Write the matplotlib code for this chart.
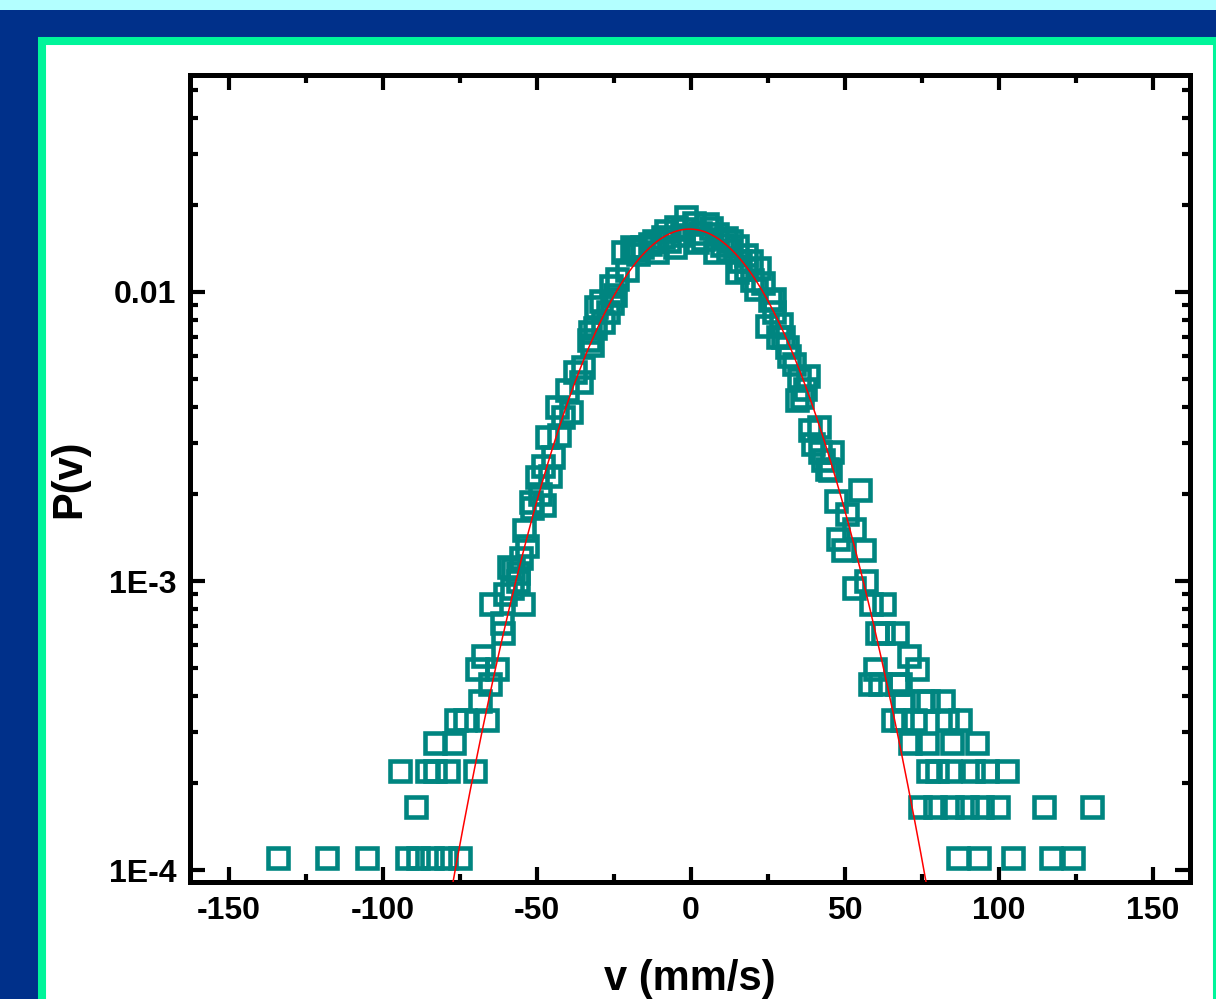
import numpy as np
import matplotlib
matplotlib.use("Agg")
import matplotlib.pyplot as plt
from matplotlib.patches import Rectangle
from matplotlib.ticker import FixedLocator, NullFormatter

plt.rcParams['font.family'] = ['Liberation Sans', 'DejaVu Sans']
plt.rcParams['font.weight'] = 'bold'
plt.rcParams['axes.unicode_minus'] = False

# velocity histogram P(v), v in mm/s
v = [-134.1, -118.2, -105.2, -92.2, -88.6, -84.1, -79.5, -75.0,
     -89.3,
     -94.2, -85.7, -83.1, -78.9, -70.1,
     -83.1, -76.9,
     -76.3, -73.4, -66.2,
     -68.5, -65.3, -69.5, -63.0, -67.5,
     -61.0, -61.4, -64.9, -54.5, -60.4, -56.2, -57.8,
     -59.1, -56.2, -58.0, -55.0, -54.0, -53.2, -51.9, -51.6, -49.0, -47.7,
     -50.0, -48.0, -45.8, -44.8, -46.8, -42.9, -43.5, -39.0, -41.6, -40.3,
     -35.7, -37.7, -35.1, -33.0, -32.1, -31.0, -32.8, -28.6, -27.0, -30.8,
     -29.0, -25.6, -24.7, -24.0, -20.8, -22.1, -19.2, -17.0, -15.9, -13.3,
     -11.0, -9.1, -7.0, -5.2, -4.9, -3.0, -1.6, 1.0, 1.9, 3.0,
     5.2, 7.8, 8.4, 10.0, 11.4, 12.0, 14.9, 14.9, 17.9, 18.0,
     20.0, 22.1, 23.4, 21.1, 26.9, 25.6, 24.7, 27.0, 29.2, 28.2,
     30.0, 31.2, 32.0, 33.4, 35.0, 38.0, 36.0, 34.4, 37.0, 38.6,
     41.6, 39.6, 41.9, 45.8, 42.9, 45.1, 44.2, 54.9, 47.1, 50.6,
     47.7, 52.9, 49.4, 56.2, 52.9, 56.8, 58.4, 62.7,
     60.4, 62.3, 66.9, 70.8, 59.7, 73.4,
     58.1, 61.4, 66.9, 67.9,
     68.8, 75.0, 77.0, 81.8,
     65.6, 68.5, 72.7, 83.1, 87.3,
     71.1, 76.6, 84.7, 92.9,
     77.0, 79.9, 84.1, 91.6, 96.1, 102.6,
     74.4, 79.2, 84.7, 89.6, 94.5, 99.7, 114.6, 130.2,
     86.7, 93.5, 104.5, 116.9, 124.0,
     -18.0, -12.0, -8.0, -2.5, 4.0, 6.5, 13.0, 16.0, -26.0, 19.5]

P = [1.1e-4, 1.1e-4, 1.1e-4, 1.1e-4, 1.1e-4, 1.1e-4, 1.1e-4, 1.1e-4,
     1.65e-4,
     2.2e-4, 2.2e-4, 2.2e-4, 2.2e-4, 2.2e-4,
     2.75e-4, 2.75e-4,
     3.3e-4, 3.3e-4, 3.3e-4,
     3.85e-4, 4.4e-4, 4.95e-4, 4.95e-4, 5.5e-4,
     6.6e-4, 7.15e-4, 8.3e-4, 8.3e-4, 9.0e-4, 1.0e-3, 1.1e-3,
     1.12e-3, 1.07e-3, 9.5e-4, 1.2e-3, 1.5e-3, 1.32e-3, 1.87e-3, 1.79e-3, 2.0e-3, 1.83e-3,
     2.29e-3, 2.5e-3, 2.31e-3, 2.69e-3, 3.15e-3, 3.20e-3, 4.00e-3, 3.84e-3, 3.69e-3, 4.58e-3,
     4.88e-3, 5.28e-3, 5.50e-3, 6.8e-3, 6.56e-3, 7.5e-3, 7.27e-3, 7.87e-3, 8.5e-3, 8.87e-3,
     9.3e-3, 9.16e-3, 9.77e-3, 0.0111, 0.0119, 0.0137, 0.0143, 0.0135, 0.0143, 0.0146,
     0.0137, 0.0155, 0.0150, 0.0143, 0.0168, 0.0158, 0.0182, 0.0173, 0.0149, 0.0160,
     0.0172, 0.0137, 0.0159, 0.0145, 0.0154, 0.0140, 0.0144, 0.0117, 0.0134, 0.0120,
     0.0110, 0.0121, 0.01075, 0.01024, 9.46e-3, 9.38e-3, 7.62e-3, 8.5e-3, 7.75e-3, 6.98e-3,
     7.0e-3, 6.45e-3, 6.0e-3, 5.63e-3, 5.0e-3, 5.12e-3, 4.33e-3, 4.23e-3, 4.6e-3, 3.33e-3,
     3.41e-3, 2.98e-3, 2.79e-3, 2.79e-3, 2.62e-3, 2.42e-3, 2.44e-3, 2.07e-3, 1.89e-3, 1.71e-3,
     1.40e-3, 1.51e-3, 1.28e-3, 1.28e-3, 9.46e-4, 1.0e-3, 8.32e-4, 8.32e-4,
     6.6e-4, 6.6e-4, 6.6e-4, 5.5e-4, 4.95e-4, 4.95e-4,
     4.4e-4, 4.4e-4, 4.4e-4, 4.4e-4,
     3.85e-4, 3.85e-4, 3.85e-4, 3.85e-4,
     3.3e-4, 3.3e-4, 3.3e-4, 3.3e-4, 3.3e-4,
     2.75e-4, 2.75e-4, 2.75e-4, 2.75e-4,
     2.2e-4, 2.2e-4, 2.2e-4, 2.2e-4, 2.2e-4, 2.2e-4,
     1.65e-4, 1.65e-4, 1.65e-4, 1.65e-4, 1.65e-4, 1.65e-4, 1.65e-4, 1.65e-4,
     1.1e-4, 1.1e-4, 1.1e-4, 1.1e-4, 1.1e-4,
     0.0140, 0.0150, 0.0162, 0.0165, 0.0152, 0.0166, 0.0150, 0.0128, 0.0105, 0.0128]

# gaussian fit parameters
A_fit = 0.0165
xc_fit = -0.4
w_fit = 23.8

xticks = [-150, -100, -50, 0, 50, 100, 150]
yticks = [1e-4, 1e-3, 1e-2]
ylabels = ['1E-4', '1E-3', '0.01']

fig = plt.figure(figsize=(12.16, 9.99), dpi=100)
fig.patch.set_facecolor('#00308a')

# light strip on top and the white panel with green border
fig.patches.append(Rectangle((0, 1 - 10 / 999), 1, 10 / 999, transform=fig.transFigure,
                             facecolor='#b3ffff', edgecolor='none', zorder=-10))
fig.patches.append(Rectangle((42 / 1216, -0.05), (1217 - 42) / 1216, 1 - 41 / 999 + 0.05,
                             transform=fig.transFigure, facecolor='white',
                             edgecolor='#00f59a', linewidth=5.8, zorder=-10))

ax = fig.add_axes([190 / 1216, 1 - 882 / 999, 1000 / 1216, 807 / 999])
ax.set_zorder(1)
ax.patch.set_alpha(0)
ax.set_yscale('log')

ax.plot(v, P, linestyle='none', marker='s', markersize=14, markerfacecolor='none',
        markeredgecolor='#008580', markeredgewidth=3.3, clip_on=False, zorder=3)

vf = np.linspace(-170, 170, 800)
ax.plot(vf, A_fit * np.exp(-(vf - xc_fit) ** 2 / (2 * w_fit ** 2)), color='red', lw=1.1, zorder=4)

ax.set_xlim(-162.5, 162)
ax.set_ylim(9.1e-5, 0.0563)

ax.set_xticks(xticks)
ax.xaxis.set_minor_locator(FixedLocator([-125, -75, -25, 25, 75, 125]))
ax.yaxis.set_major_locator(FixedLocator(yticks))
ax.set_yticklabels(ylabels)
minors = [m * d for d in [1e-5, 1e-4, 1e-3, 1e-2] for m in range(2, 10)]
ax.yaxis.set_minor_locator(FixedLocator(minors))
ax.yaxis.set_minor_formatter(NullFormatter())

ax.tick_params(which='both', direction='in', top=True, right=True, width=3,
               labelsize=23, pad=10)
ax.tick_params(which='major', length=11)
ax.tick_params(which='minor', length=5.5)
for lab in ax.get_xticklabels() + ax.get_yticklabels():
    lab.set_fontweight('bold')
for s in ax.spines.values():
    s.set_linewidth(3.6)

ax.set_xlabel('v (mm/s)', fontsize=30, fontweight='bold', labelpad=24)
ax.set_ylabel('P(v)', fontsize=30, fontweight='bold', labelpad=14)

fig.savefig('out.png', dpi=100, facecolor=fig.get_facecolor())
